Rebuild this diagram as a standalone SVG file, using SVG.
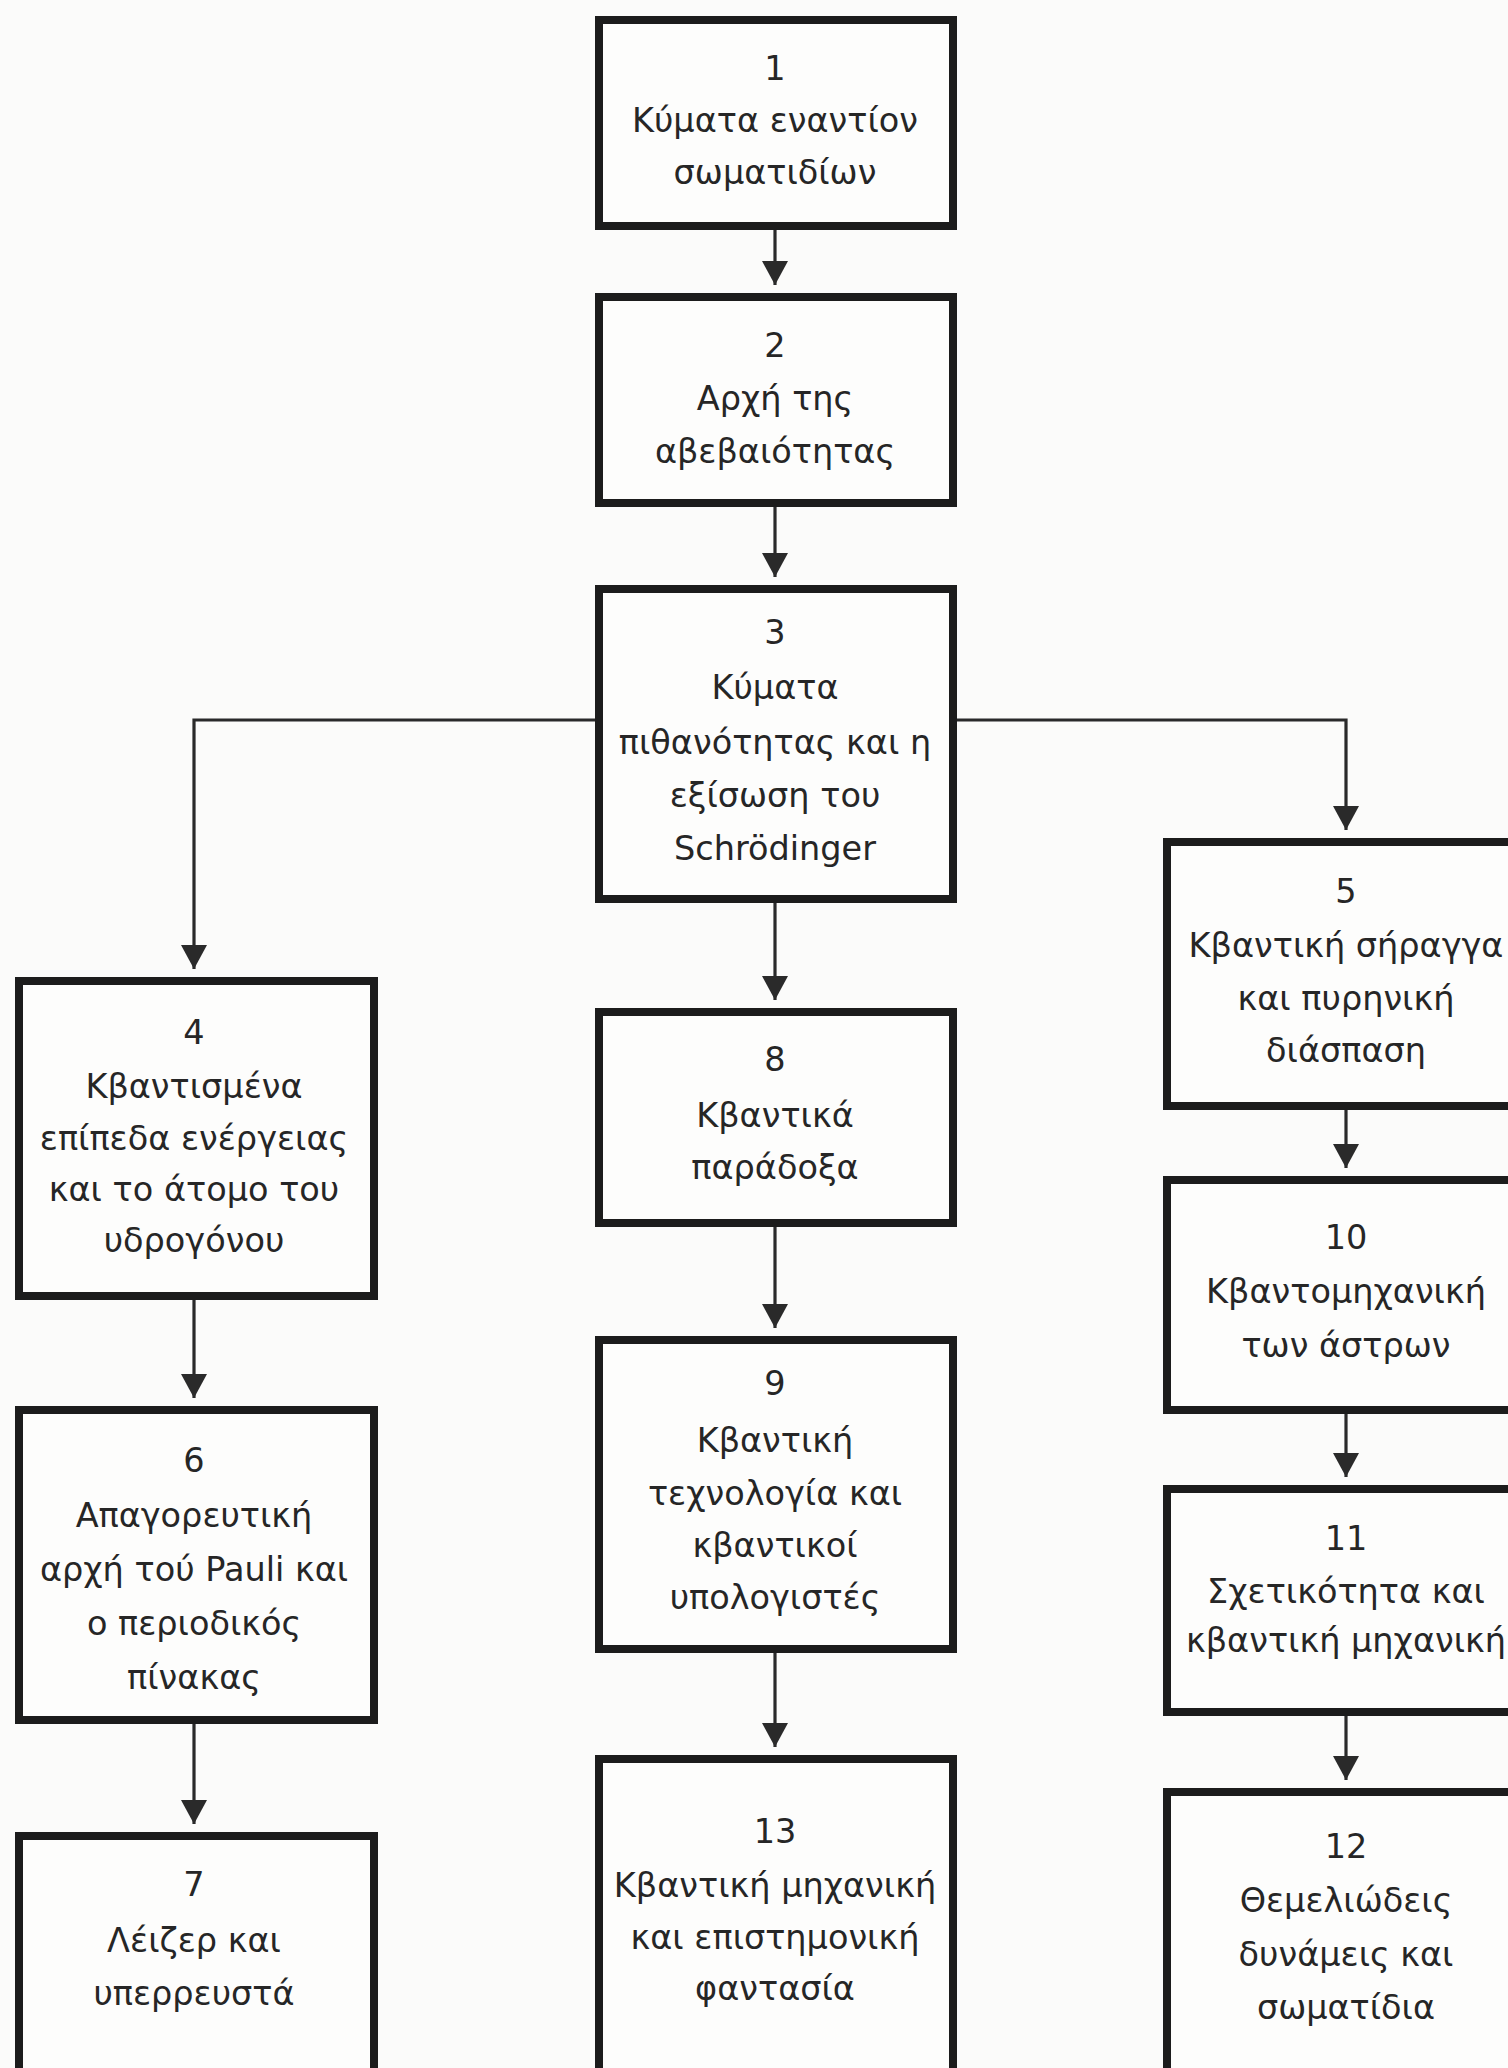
<svg xmlns="http://www.w3.org/2000/svg" width="1508" height="2068" viewBox="0 0 1508 2068">
<defs>
<style>
.box{fill:#fdfdfc;stroke:#1c1c1c;stroke-width:8}
.t{font-family:"DejaVu Sans","Noto Sans",sans-serif;font-size:33.5px;fill:#262626;text-anchor:middle}
.c{fill:none;stroke:#2a2a2a;stroke-width:3.2}
</style>
<marker id="ah" markerUnits="userSpaceOnUse" viewBox="0 0 24 26" refX="24" refY="13" markerWidth="24" markerHeight="26" orient="auto">
<path d="M0,0 L24,13 L0,26 z" fill="#2a2a2a"/>
</marker>
</defs>
<rect x="0" y="0" width="1508" height="2068" fill="#fbfbfa"/>
<g id="connectors">
<path class="c" d="M775,230 V285" marker-end="url(#ah)"/>
<path class="c" d="M775,507 V577" marker-end="url(#ah)"/>
<path class="c" d="M595,720 H194 V969" marker-end="url(#ah)"/>
<path class="c" d="M957,720 H1346 V830" marker-end="url(#ah)"/>
<path class="c" d="M775,903 V1000" marker-end="url(#ah)"/>
<path class="c" d="M775,1227 V1328" marker-end="url(#ah)"/>
<path class="c" d="M775,1653 V1747" marker-end="url(#ah)"/>
<path class="c" d="M194,1300 V1398" marker-end="url(#ah)"/>
<path class="c" d="M194,1724 V1824" marker-end="url(#ah)"/>
<path class="c" d="M1346,1110 V1168" marker-end="url(#ah)"/>
<path class="c" d="M1346,1414 V1477" marker-end="url(#ah)"/>
<path class="c" d="M1346,1716 V1780" marker-end="url(#ah)"/>
</g>
<g id="n1"><rect class="box" x="599" y="20" width="354" height="206"/>
<text class="t" x="775" y="80">1</text><text class="t" x="775" y="132">Κύματα εναντίον</text><text class="t" x="775" y="184">σωματιδίων</text></g>
<g id="n2"><rect class="box" x="599" y="297" width="354" height="206"/>
<text class="t" x="775" y="357">2</text><text class="t" x="775" y="410">Αρχή της</text><text class="t" x="775" y="463">αβεβαιότητας</text></g>
<g id="n3"><rect class="box" x="599" y="589" width="354" height="310"/>
<text class="t" x="775" y="644">3</text><text class="t" x="775" y="699">Κύματα</text><text class="t" x="775" y="754">πιθανότητας και η</text><text class="t" x="775" y="807">εξίσωση του</text><text class="t" x="775" y="860">Schrödinger</text></g>
<g id="n4"><rect class="box" x="19" y="981" width="355" height="315"/>
<text class="t" x="194" y="1044">4</text><text class="t" x="194" y="1098">Κβαντισμένα</text><text class="t" x="194" y="1150">επίπεδα ενέργειας</text><text class="t" x="194" y="1201">και το άτομο του</text><text class="t" x="194" y="1252">υδρογόνου</text></g>
<g id="n5"><rect class="box" x="1167" y="842" width="359" height="264"/>
<text class="t" x="1346" y="903">5</text><text class="t" x="1346" y="957">Κβαντική σήραγγα</text><text class="t" x="1346" y="1010">και πυρηνική</text><text class="t" x="1346" y="1062">διάσπαση</text></g>
<g id="n6"><rect class="box" x="19" y="1410" width="355" height="310"/>
<text class="t" x="194" y="1472">6</text><text class="t" x="194" y="1527">Απαγορευτική</text><text class="t" x="194" y="1581">αρχή τού Pauli και</text><text class="t" x="194" y="1635">ο περιοδικός</text><text class="t" x="194" y="1689">πίνακας</text></g>
<g id="n7"><rect class="box" x="19" y="1836" width="355" height="244"/>
<text class="t" x="194" y="1896">7</text><text class="t" x="194" y="1952">Λέιζερ και</text><text class="t" x="194" y="2005">υπερρευστά</text></g>
<g id="n8"><rect class="box" x="599" y="1012" width="354" height="211"/>
<text class="t" x="775" y="1071">8</text><text class="t" x="775" y="1127">Κβαντικά</text><text class="t" x="775" y="1179">παράδοξα</text></g>
<g id="n9"><rect class="box" x="599" y="1340" width="354" height="309"/>
<text class="t" x="775" y="1395">9</text><text class="t" x="775" y="1452">Κβαντική</text><text class="t" x="775" y="1505">τεχνολογία και</text><text class="t" x="775" y="1557">κβαντικοί</text><text class="t" x="775" y="1609">υπολογιστές</text></g>
<g id="n10"><rect class="box" x="1167" y="1180" width="359" height="230"/>
<text class="t" x="1346" y="1249">10</text><text class="t" x="1346" y="1303">Κβαντομηχανική</text><text class="t" x="1346" y="1357">των άστρων</text></g>
<g id="n11"><rect class="box" x="1167" y="1489" width="359" height="223"/>
<text class="t" x="1346" y="1550">11</text><text class="t" x="1346" y="1603">Σχετικότητα και</text><text class="t" x="1346" y="1652">κβαντική μηχανική</text></g>
<g id="n12"><rect class="box" x="1167" y="1792" width="359" height="290"/>
<text class="t" x="1346" y="1858">12</text><text class="t" x="1346" y="1912">Θεμελιώδεις</text><text class="t" x="1346" y="1966">δυνάμεις και</text><text class="t" x="1346" y="2019">σωματίδια</text></g>
<g id="n13"><rect class="box" x="599" y="1759" width="354" height="322"/>
<text class="t" x="775" y="1843">13</text><text class="t" x="775" y="1897">Κβαντική μηχανική</text><text class="t" x="775" y="1949">και επιστημονική</text><text class="t" x="775" y="2000">φαντασία</text></g>
</svg>
